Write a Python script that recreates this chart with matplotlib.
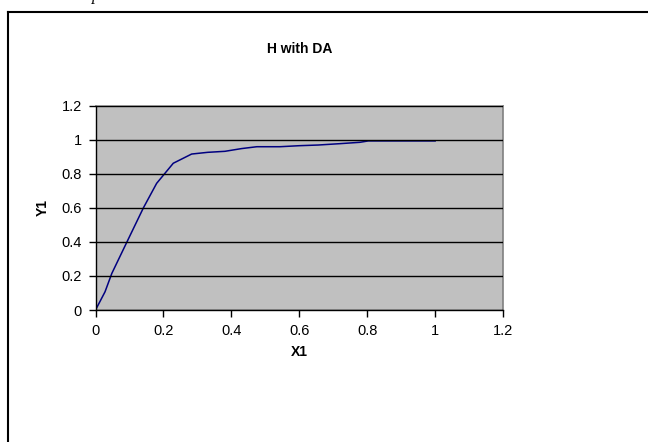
import matplotlib.pyplot as plt
from matplotlib.lines import Line2D

x1 = [0, 0.028, 0.048, 0.095, 0.141, 0.18, 0.229, 0.283, 0.33, 0.381,
      0.43, 0.475, 0.543, 0.6, 0.656, 0.72, 0.779, 0.803, 0.9, 1.0]
y1 = [0, 0.107, 0.215, 0.41, 0.6, 0.744, 0.862, 0.916, 0.926, 0.932,
      0.948, 0.959, 0.959, 0.965, 0.969, 0.977, 0.985, 0.993, 0.993, 0.993]
ticks = [0, 0.2, 0.4, 0.6, 0.8, 1, 1.2]
tick_labels = ['0', '0.2', '0.4', '0.6', '0.8', '1', '1.2']

plt.rcParams['font.family'] = ['Liberation Sans', 'DejaVu Sans']

fig = plt.figure(figsize=(6.48, 4.42), dpi=100)
ax = fig.add_axes([0.1474, 0.2986, 0.6289, 0.4623])
ax.set_facecolor('#C0C0C0')

ax.plot(x1, y1, color='#000080', linewidth=1.1)

ax.set_xlim(0, 1.2)
ax.set_ylim(0, 1.2)
ax.set_xticks(ticks)
ax.set_xticklabels(tick_labels)
ax.set_yticks(ticks)
ax.set_yticklabels(tick_labels)
ax.tick_params(direction='out', length=5, width=1, labelsize=10.5, colors='black', pad=5)

ax.yaxis.grid(True, color='black', linewidth=1)
ax.set_axisbelow(False)

for s in ['top', 'right']:
    ax.spines[s].set_color('#808080')
    ax.spines[s].set_linewidth(1.2)
for s in ['left', 'bottom']:
    ax.spines[s].set_color('black')
    ax.spines[s].set_linewidth(1)

ax.set_title('H with DA', fontsize=10, fontweight='bold', pad=38)
ax.set_xlabel('X1', fontsize=10, fontweight='bold', labelpad=5)
ax.set_ylabel('Y1', fontsize=10, fontweight='bold', labelpad=8)

# outer chart border (top and left edges only are visible)
top = 1 - 11.7 / 442
left = 8 / 648
fig.add_artist(Line2D([left, 1], [top, top], color='black', linewidth=1.5,
                      transform=fig.transFigure))
fig.add_artist(Line2D([left, left], [0, top], color='black', linewidth=1.5,
                      transform=fig.transFigure))

fig.text(96 / 648, 1 - 0.5 / 442, 'p', family='Liberation Serif', style='italic',
         fontsize=12, va='baseline', ha='center')

fig.savefig('out.png', dpi=100)
